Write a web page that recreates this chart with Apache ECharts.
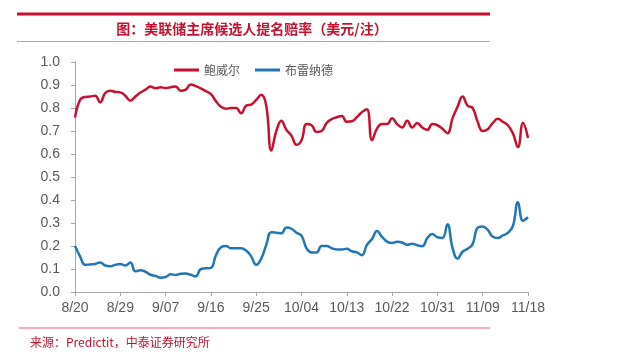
<!DOCTYPE html>
<html>
<head>
<meta charset="utf-8">
<script src="https://cdn.jsdelivr.net/npm/echarts@6/dist/echarts.min.js"></script>
<style>
html,body{margin:0;padding:0;background:#fff;}
#c{width:617px;height:356px;}
</style>
</head>
<body>
<div id="c"></div>
<script>
var titleText = '图：美联储主席候选人提名赔率（美元/注）';
var sourceText = '来源：Predictit，中泰证券研究所';
var seriesNames = ['鲍威尔', '布雷纳德'];
var yTicks = [0, 0.1, 0.2, 0.3, 0.4, 0.5, 0.6, 0.7, 0.8, 0.9, 1.0];

var dates = [
 '8/20','8/21','8/22','8/23','8/24','8/25','8/26','8/27','8/28','8/29','8/30','8/31',
 '9/01','9/02','9/03','9/04','9/05','9/06','9/07','9/08','9/09','9/10','9/11','9/12','9/13','9/14','9/15',
 '9/16','9/17','9/18','9/19','9/20','9/21','9/22','9/23','9/24','9/25','9/26','9/27','9/28','9/29','9/30',
 '10/01','10/02','10/03','10/04','10/05','10/06','10/07','10/08','10/09','10/10','10/11','10/12','10/13',
 '10/14','10/15','10/16','10/17','10/18','10/19','10/20','10/21','10/22','10/23','10/24','10/25','10/26',
 '10/27','10/28','10/29','10/30','10/31',
 '11/01','11/02','11/03','11/04','11/05','11/06','11/07','11/08','11/09','11/10','11/11','11/12','11/13',
 '11/14','11/15','11/16','11/17','11/18'
];

var powell = [
 0.758,0.835,0.848,0.85,0.853,0.825,0.865,0.875,0.87,0.868,
 0.853,0.832,0.85,0.867,0.88,0.893,0.886,0.89,0.887,0.89,
 0.894,0.875,0.88,0.902,0.895,0.885,0.873,0.86,0.83,0.805,
 0.797,0.80,0.80,0.777,0.81,0.815,0.835,0.858,0.81,0.615,
 0.70,0.745,0.705,0.68,0.64,0.66,0.73,0.725,0.696,0.70,
 0.735,0.752,0.76,0.765,0.74,0.742,0.76,0.782,0.795,0.66,
 0.71,0.73,0.73,0.755,0.73,0.715,0.745,0.715,0.735,0.715,
 0.705,0.73,0.725,0.71,0.69,0.755,0.805,0.85,0.81,0.80,
 0.74,0.70,0.708,0.735,0.753,0.74,0.725,0.69,0.63,0.735,
 0.67
];

var brainard = [
 0.20,0.155,0.118,0.12,0.122,0.128,0.115,0.112,0.118,0.122,
 0.115,0.128,0.09,0.095,0.088,0.075,0.07,0.062,0.065,0.077,
 0.074,0.079,0.08,0.075,0.068,0.10,0.103,0.105,0.16,0.195,
 0.20,0.19,0.19,0.19,0.18,0.155,0.118,0.145,0.205,0.26,
 0.258,0.255,0.28,0.275,0.258,0.245,0.19,0.172,0.172,0.20,
 0.20,0.19,0.185,0.185,0.188,0.177,0.172,0.16,0.205,0.23,
 0.265,0.24,0.219,0.213,0.218,0.215,0.205,0.21,0.203,0.199,
 0.235,0.252,0.238,0.235,0.295,0.193,0.145,0.175,0.188,0.208,
 0.28,0.285,0.27,0.24,0.235,0.246,0.257,0.287,0.39,0.31,
 0.325
];

var chart = echarts.init(document.getElementById('c'), null, {renderer: 'canvas'});
var font = '"Noto Sans CJK SC", "Liberation Sans", sans-serif';
var numFont = '"Liberation Sans", Arial, sans-serif';
var axisGray = '#a6a6a6';
var labelGray = '#595959';
var red = '#c8102e';

chart.setOption({
  animation: false,
  backgroundColor: '#ffffff',
  graphic: [
    {type: 'rect', shape: {x: 17, y: 12.5, width: 473, height: 3}, style: {fill: red}},
    {type: 'text', x: 252, y: 29, style: {text: titleText, fill: red, font: 'bold 14px ' + font, textAlign: 'center', textVerticalAlign: 'middle'}},
    {type: 'rect', shape: {x: 17, y: 41, width: 473, height: 1}, style: {fill: '#f08a8a'}},
    {type: 'rect', shape: {x: 19, y: 327.5, width: 471, height: 1}, style: {fill: '#f0606e'}},
    {type: 'text', x: 30, y: 342, style: {text: sourceText, fill: red, font: '12px ' + font, textVerticalAlign: 'middle'}}
  ],
  legend: {
    data: seriesNames,
    top: 59,
    left: 169,
    icon: 'rect',
    itemWidth: 25,
    itemHeight: 3,
    itemGap: 15,
    textStyle: {color: labelGray, fontSize: 12, fontFamily: font}
  },
  grid: {left: 75, right: 89, top: 62, bottom: 64},
  xAxis: {
    type: 'category',
    data: dates,
    boundaryGap: false,
    axisLine: {lineStyle: {color: axisGray, width: 1}},
    axisTick: {interval: 8, length: 4, lineStyle: {color: axisGray}},
    axisLabel: {interval: 8, color: labelGray, fontSize: 14, fontFamily: numFont, margin: 9},
    splitLine: {show: false}
  },
  yAxis: {
    type: 'value',
    min: yTicks[0],
    max: yTicks[yTicks.length - 1],
    interval: 0.1,
    axisLine: {show: true, lineStyle: {color: axisGray, width: 1}},
    axisTick: {show: true, length: 4, lineStyle: {color: axisGray}},
    axisLabel: {color: labelGray, fontSize: 14, fontFamily: numFont, margin: 15,
      formatter: function (v) { return v.toFixed(1); }},
    splitLine: {show: false}
  },
  series: [
    {name: seriesNames[0], type: 'line', data: powell, smooth: 0.45, showSymbol: false,
     lineStyle: {color: red, width: 2.5}, itemStyle: {color: red}},
    {name: seriesNames[1], type: 'line', data: brainard, smooth: 0.45, showSymbol: false,
     lineStyle: {color: '#1f77b8', width: 2.5}, itemStyle: {color: '#1f77b8'}}
  ]
});
</script>
</body>
</html>
